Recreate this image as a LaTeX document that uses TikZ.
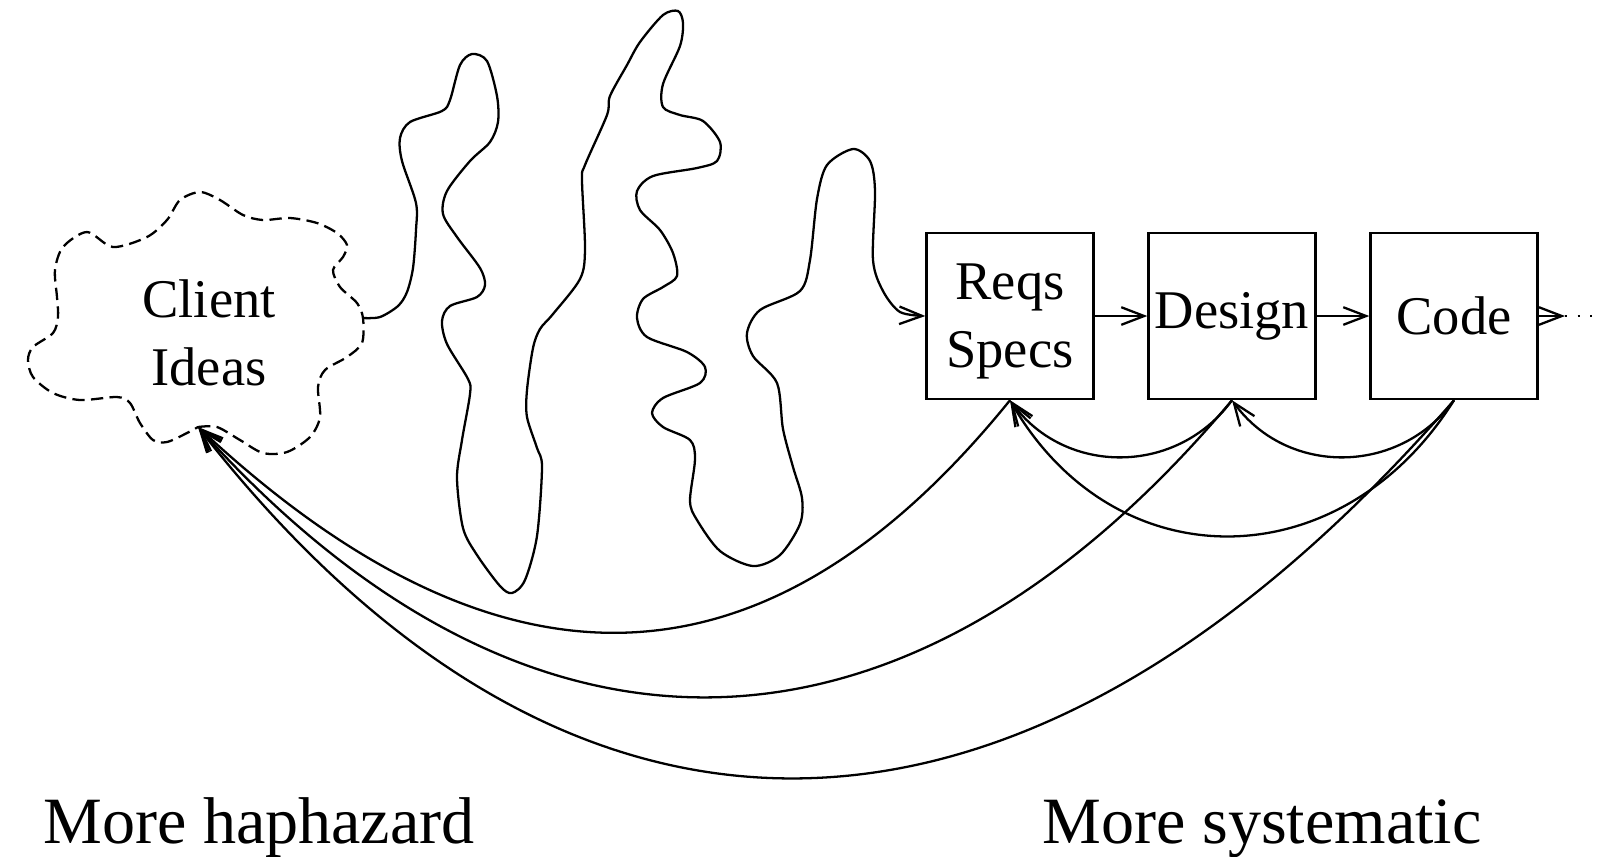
\documentclass[tikz,border=0pt]{standalone}
\usepackage{fontspec}
\setmainfont{Liberation Serif}
\usetikzlibrary{arrows.meta}
\tikzset{
  stage/.style={draw, minimum width=1.67cm, minimum height=1.66cm, inner sep=0pt,
    align=center, font=\fontsize{15.5}{19.3}\selectfont},
  blurb/.style={anchor=base, font=\fontsize{18.8}{22}\selectfont},
  cloudline/.style={dash pattern=on 3.5pt off 1.8pt},
}

\begin{document}
\begin{tikzpicture}[x=0.01cm, y=0.01cm, line width=0.65pt,
    >={Straight Barb[length=6.5pt,width=5pt]}]
  \useasboundingbox (0,0) rectangle (1606,-856);

  \coordinate (ideasin) at (198,-427);
  \coordinate (ideasout) at (363,-318);
  \draw[cloudline] plot[smooth] coordinates {(ideasin) (217,-427) (240,-440) (263,-453)
    (287,-452) (310,-437) (320,-417) (318,-387) (325,-370) (347,-357) (362,-343)
    (ideasout) (357,-303) (340,-287) (333,-270) (343,-257) (347,-245) (337,-233)
    (317,-223) (290,-218) (263,-220) (243,-215) (220,-200) (200,-192) (180,-200)
    (167,-220) (147,-237) (113,-247) (87,-232) (63,-247) (55,-270) (57,-297)
    (58,-317) (53,-333) (33,-347) (28,-360) (33,-377) (53,-393) (80,-400)
    (117,-397) (130,-403) (140,-423) (153,-440) (167,-442) (187,-433) (ideasin)};
  \node[align=center, font=\fontsize{15.5}{19.3}\selectfont] (ideas) at (209,-333) {Client\\Ideas};

  \node[stage, text depth=0pt] (reqs) at (1010,-316) {Reqs\\Specs};
  \node[stage] (design) at (1232,-316) {Design};
  \node[stage] (code) at (1454,-316) {Code};
  \coordinate (more) at (1565,-316);

  \draw[->] plot[smooth] coordinates {(ideasout) (380,-317) (398,-306) (407,-292)
    (413,-268) (416,-230) (416,-203) (402,-161) (400,-138) (410,-122) (442,-111)
    (450,-100) (460,-65) (472,-54) (487,-61) (497,-96) (498,-122) (490,-142)
    (470,-161) (447,-191) (443,-214) (457,-237) (480,-268) (485,-285) (477,-297)
    (450,-306) (442,-321) (447,-344) (468,-379) (470,-394) (462,-440) (457,-478)
    (463,-528) (477,-555) (500,-586) (512,-593) (525,-580) (537,-536) (542,-467)
    (537,-448) (527,-417) (527,-390) (533,-348) (540,-329) (553,-314) (580,-279)
    (585,-249) (582,-180) (585,-165) (607,-115) (610,-96) (627,-65) (640,-42)
    (663,-15) (678,-11) (683,-23) (680,-46) (663,-84) (663,-107) (680,-115)
    (703,-121) (720,-142) (717,-161) (697,-168) (653,-176) (637,-191) (640,-210)
    (660,-230) (673,-253) (677,-276) (663,-287) (643,-299) (637,-318) (647,-337)
    (687,-352) (705,-367) (700,-383) (663,-398) (652,-413) (663,-427) (690,-440)
    (695,-459) (690,-501) (697,-520) (720,-551) (753,-566) (780,-555) (800,-524)
    (802,-498) (793,-467) (783,-429) (777,-383) (753,-356) (747,-333) (760,-310)
    (800,-291) (810,-260) (817,-199) (827,-165) (853,-149) (870,-161) (875,-191)
    (873,-260) (883,-291) (900,-312) (reqs.west)};

  \draw[->] (reqs) -- (design);
  \draw[->] (design) -- (code);
  \draw[->] (code) -- (more);
  \draw[dash pattern=on 0.6pt off 3pt] (more) -- (1595,-316);

  % back to earlier steps
  \draw[->] (design.south) to[out=-126, in=-54, looseness=1.08] (reqs.south);
  \draw[->] (code.south) to[out=-126, in=-54, looseness=1.08] (design.south);
  \draw[->] (code.south) to[out=-122, in=-60, looseness=1.22] (reqs.south);
  \draw[->] (reqs.south) to[out=-129, in=-43, out distance=3.3cm, in distance=4.7cm] (ideasin);
  \draw[->] (design.south) to[out=-130, in=-48, out distance=5cm, in distance=5cm] (ideasin);
  \draw[->] (code.south) to[out=-131, in=-52, out distance=6.6cm, in distance=6cm] (ideasin);

  \node[blurb] (haphazard) at (259,-843) {More haphazard};
  \node[blurb] (systematic) at (1262,-843) {More systematic};
\end{tikzpicture}
\end{document}
